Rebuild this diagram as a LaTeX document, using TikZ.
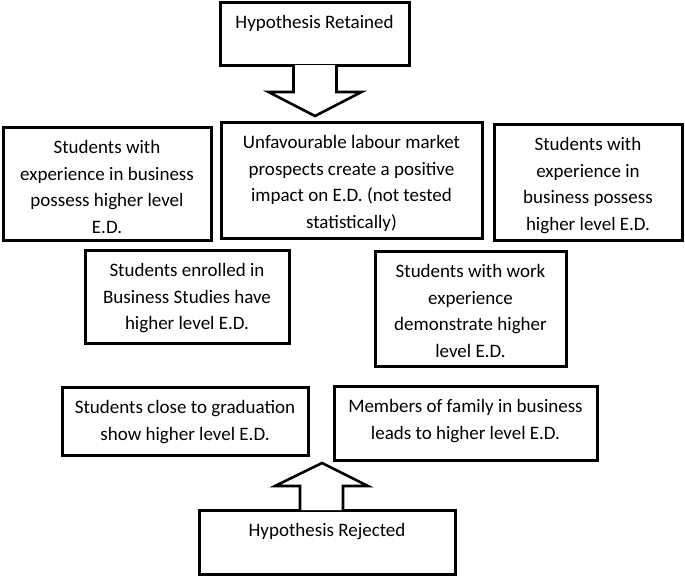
\documentclass[tikz,border=0pt]{standalone}
\usepackage{fontspec}
\setmainfont{Carlito}
\usetikzlibrary{calc}
\newcommand\boxfont{\fontsize{19}{26.7}\selectfont}
\tikzset{
  x=1pt, y=-1pt,
  box/.style={draw, line width=3pt, rectangle, inner sep=0pt, outer sep=0pt, anchor=north west, fill=white},
  txt/.style={font=\boxfont, align=center, inner sep=0pt, anchor=north},
  blockarrow/.style={draw, fill=white, line width=2.6pt, line join=miter},
}
\begin{document}
\begin{tikzpicture}
\useasboundingbox (0,0) rectangle (685,576);
% boxes
\node[box, minimum width=189, minimum height=63] (hr) at (220,2) {};
\node[box, minimum width=208, minimum height=113] (b1) at (3,127) {};
\node[box, minimum width=261, minimum height=116] (b2) at (221,122) {};
\node[box, minimum width=188, minimum height=116] (b3) at (494,124) {};
\node[box, minimum width=204, minimum height=93] (b4) at (85,250) {};
\node[box, minimum width=191, minimum height=115] (b5) at (375,251) {};
\node[box, minimum width=246, minimum height=68] (b6) at (62,387) {};
\node[box, minimum width=263, minimum height=74] (b7) at (334,386) {};
\node[box, minimum width=256, minimum height=64] (rj) at (199,510) {};
% texts
\node[txt] (thr) at ($(hr.north)+(0,7.5)$) {\strut Hypothesis Retained};
\node[txt] (t1) at ($(b1.north)+(0,7.5)$) {\strut Students with\\experience in business\\possess higher level\\E.D.};
\node[txt] (t2) at ($(b2.north)+(0,7.5)$) {\strut Unfavourable labour market\\prospects create a positive\\impact on E.D. (not tested\\statistically)};
\node[txt] (t3) at ($(b3.north)+(0,7.5)$) {\strut Students with\\experience in\\business possess\\higher level E.D.};
\node[txt] (t4) at ($(b4.north)+(0,7.5)$) {\strut Students enrolled in\\Business Studies have\\higher level E.D.};
\node[txt] (t5) at ($(b5.north)+(0,7.5)$) {\strut Students with work\\experience\\demonstrate higher\\level E.D.};
\node[txt] (t6) at ($(b6.north)+(0,7.5)$) {\strut Students close to graduation\\show higher level E.D.};
\node[txt] (t7) at ($(b7.north)+(0,7.5)$) {\strut Members of family in business\\leads to higher level E.D.};
\node[txt] (trj) at ($(rj.north)+(0,7.5)$) {\strut Hypothesis Rejected};
% block arrows
\coordinate (dtip) at ($(hr.south)+(0.5,51)$);
\path[blockarrow] ($(hr.south)+(-21,0)$) -- ($(hr.south)+(-21,27)$) -- ($(hr.south)+(-46,27)$)
  -- (dtip) -- ($(hr.south)+(47,27)$) -- ($(hr.south)+(22,27)$) -- ($(hr.south)+(22,0)$);
\coordinate (utip) at ($(rj.north)+(-5,-47)$);
\path[blockarrow] ($(rj.north)+(-27,0)$) -- ($(rj.north)+(-27,-24)$) -- ($(rj.north)+(-52,-24)$)
  -- (utip) -- ($(rj.north)+(41,-24)$) -- ($(rj.north)+(16,-24)$) -- ($(rj.north)+(16,0)$);
\end{tikzpicture}
\end{document}
